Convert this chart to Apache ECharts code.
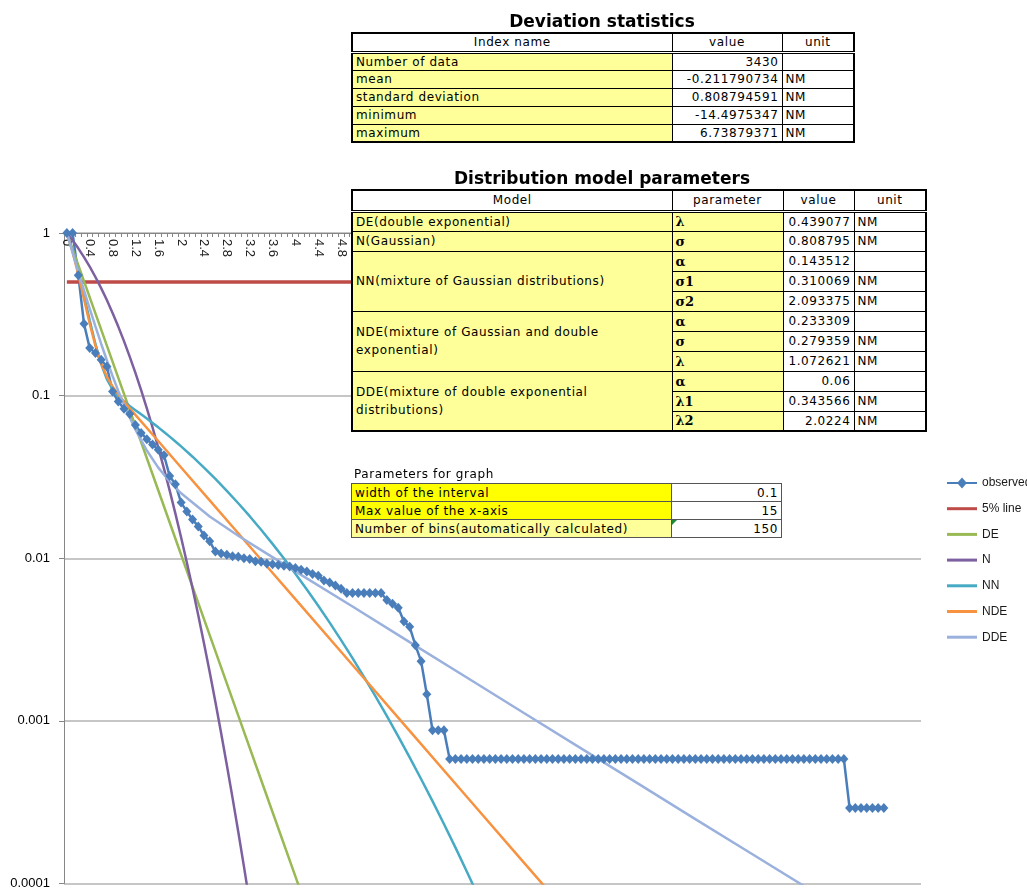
<!DOCTYPE html>
<html><head><meta charset="utf-8">
<script src="https://cdn.jsdelivr.net/npm/echarts@6/dist/echarts.min.js"></script>
<style>
body{margin:0;background:#fff;width:1027px;height:890px;overflow:hidden;position:relative;}
#chart{position:absolute;left:0;top:0;width:1027px;height:890px;}
.ttl{position:absolute;font:bold 17px 'DejaVu Sans',sans-serif;color:#000;white-space:nowrap;transform:translate(-50%,-50%);z-index:3;}
.cap{position:absolute;font:12px 'DejaVu Sans',sans-serif;letter-spacing:0.6px;color:#000;white-space:nowrap;z-index:3;}
table.t{position:absolute;border-collapse:collapse;table-layout:fixed;font:12px 'DejaVu Sans',sans-serif;letter-spacing:0.6px;color:#000;background:#fff;z-index:2;}
table.t td{border:1px solid #000;padding:0 3px;overflow:hidden;white-space:nowrap;line-height:14px;}
table.t td.y{background:#FFFF99;}
table.t td.yy{background:#FFFF00;}
table.t td.r{text-align:right;}
table.t td.c{text-align:center;}
table.t td.g{font:bold 13px 'DejaVu Serif',serif;letter-spacing:0;}
table.t td.w{white-space:normal;line-height:18px;}
table.thick{border:2px solid #000;}
table.thick tr.h td{border-bottom:3px double #000;}
table.thin td{border-color:#555;}
.tri{position:relative;}
.tri:before{content:'';position:absolute;left:0;top:0;border-top:5px solid #1E8A3A;border-right:5px solid transparent;}
</style></head>
<body>
<div id="chart"></div>

<div class="ttl" style="left:602px;top:21px;">Deviation statistics</div>
<table class="t thick" style="left:351px;top:32px;width:502px;">
<colgroup><col style="width:320px"><col style="width:110px"><col style="width:72px"></colgroup>
<tr class="h" style="height:19px"><td class="c">Index name</td><td class="c">value</td><td class="c">unit</td></tr>
<tr style="height:18px"><td class="y">Number of data</td><td class="r">3430</td><td></td></tr>
<tr style="height:18px"><td class="y">mean</td><td class="r">-0.211790734</td><td>NM</td></tr>
<tr style="height:18px"><td class="y">standard deviation</td><td class="r">0.808794591</td><td>NM</td></tr>
<tr style="height:18px"><td class="y">minimum</td><td class="r">-14.4975347</td><td>NM</td></tr>
<tr style="height:18px"><td class="y">maximum</td><td class="r">6.73879371</td><td>NM</td></tr>
</table>

<div class="ttl" style="left:602px;top:178px;">Distribution model parameters</div>
<table class="t thick" style="left:351px;top:189px;width:574px;">
<colgroup><col style="width:320px"><col style="width:111px"><col style="width:71px"><col style="width:72px"></colgroup>
<tr class="h" style="height:21px"><td class="c">Model</td><td class="c">parameter</td><td class="c">value</td><td class="c">unit</td></tr>
<tr style="height:20px"><td class="y">DE(double exponential)</td><td class="y g">λ</td><td class="r">0.439077</td><td>NM</td></tr>
<tr style="height:20px"><td class="y">N(Gaussian)</td><td class="y g">σ</td><td class="r">0.808795</td><td>NM</td></tr>
<tr style="height:20px"><td class="y" rowspan="3">NN(mixture of Gaussian distributions)</td><td class="y g">α</td><td class="r">0.143512</td><td></td></tr>
<tr style="height:20px"><td class="y g">σ1</td><td class="r">0.310069</td><td>NM</td></tr>
<tr style="height:20px"><td class="y g">σ2</td><td class="r">2.093375</td><td>NM</td></tr>
<tr style="height:20px"><td class="y w" rowspan="3">NDE(mixture of Gaussian and double<br>exponential)</td><td class="y g">α</td><td class="r">0.233309</td><td></td></tr>
<tr style="height:20px"><td class="y g">σ</td><td class="r">0.279359</td><td>NM</td></tr>
<tr style="height:20px"><td class="y g">λ</td><td class="r">1.072621</td><td>NM</td></tr>
<tr style="height:20px"><td class="y w" rowspan="3">DDE(mixture of double exponential<br>distributions)</td><td class="y g">α</td><td class="r">0.06</td><td></td></tr>
<tr style="height:20px"><td class="y g">λ1</td><td class="r">0.343566</td><td>NM</td></tr>
<tr style="height:20px"><td class="y g">λ2</td><td class="r">2.0224</td><td>NM</td></tr>
</table>

<div class="cap" style="left:354px;top:467px;">Parameters for graph</div>
<table class="t thin" style="left:351px;top:483px;width:430px;">
<colgroup><col style="width:320px"><col style="width:110px"></colgroup>
<tr style="height:18px"><td class="yy">width of the interval</td><td class="r">0.1</td></tr>
<tr style="height:18px"><td class="yy">Max value of the x-axis</td><td class="r">15</td></tr>
<tr style="height:18px"><td class="y">Number of bins(automatically calculated)</td><td class="r tri">150</td></tr>
</table>

<script>
// x categories (bin lower edges, width 0.1)
const categories = [
'0','0.1','0.2','0.3','0.4','0.5','0.6','0.7','0.8','0.9',
'1','1.1','1.2','1.3','1.4','1.5','1.6','1.7','1.8','1.9',
'2','2.1','2.2','2.3','2.4','2.5','2.6','2.7','2.8','2.9',
'3','3.1','3.2','3.3','3.4','3.5','3.6','3.7','3.8','3.9',
'4','4.1','4.2','4.3','4.4','4.5','4.6','4.7','4.8','4.9',
'5','5.1','5.2','5.3','5.4','5.5','5.6','5.7','5.8','5.9',
'6','6.1','6.2','6.3','6.4','6.5','6.6','6.7','6.8','6.9',
'7','7.1','7.2','7.3','7.4','7.5','7.6','7.7','7.8','7.9',
'8','8.1','8.2','8.3','8.4','8.5','8.6','8.7','8.8','8.9',
'9','9.1','9.2','9.3','9.4','9.5','9.6','9.7','9.8','9.9',
'10','10.1','10.2','10.3','10.4','10.5','10.6','10.7','10.8','10.9',
'11','11.1','11.2','11.3','11.4','11.5','11.6','11.7','11.8','11.9',
'12','12.1','12.2','12.3','12.4','12.5','12.6','12.7','12.8','12.9',
'13','13.1','13.2','13.3','13.4','13.5','13.6','13.7','13.8','13.9',
'14','14.1','14.2','14.3','14.4','14.5','14.6','14.7','14.8','14.9'
];

// observed exceedance probability, one value per category
const observed = [
1, 1, 0.55, 0.277, 0.196, 0.183, 0.166, 0.151, 0.106, 0.092,
0.083, 0.077, 0.066, 0.059, 0.054, 0.050, 0.0465, 0.043, 0.032, 0.0285,
0.022, 0.0194, 0.0173, 0.0157, 0.0138, 0.0127, 0.0110, 0.0107, 0.0105, 0.0103,
0.0102, 0.0100, 0.0099, 0.0096, 0.0095, 0.0093, 0.0092, 0.0091, 0.0090, 0.0089,
0.0087, 0.0085, 0.0083, 0.0080, 0.0078, 0.0073, 0.0071, 0.0068, 0.0065, 0.00612,
0.00612, 0.00612, 0.00612, 0.00612, 0.00612, 0.00612, 0.00554, 0.00525, 0.00496, 0.00408,
0.00379, 0.00292, 0.00233, 0.001458, 0.000875, 0.000875, 0.000875, 0.000583, 0.000583, 0.000583,
0.000583, 0.000583, 0.000583, 0.000583, 0.000583, 0.000583, 0.000583, 0.000583, 0.000583, 0.000583,
0.000583, 0.000583, 0.000583, 0.000583, 0.000583, 0.000583, 0.000583, 0.000583, 0.000583, 0.000583,
0.000583, 0.000583, 0.000583, 0.000583, 0.000583, 0.000583, 0.000583, 0.000583, 0.000583, 0.000583,
0.000583, 0.000583, 0.000583, 0.000583, 0.000583, 0.000583, 0.000583, 0.000583, 0.000583, 0.000583,
0.000583, 0.000583, 0.000583, 0.000583, 0.000583, 0.000583, 0.000583, 0.000583, 0.000583, 0.000583,
0.000583, 0.000583, 0.000583, 0.000583, 0.000583, 0.000583, 0.000583, 0.000583, 0.000583, 0.000583,
0.000583, 0.000583, 0.000583, 0.000583, 0.000583, 0.000583, 0.000583, 0.0002915, 0.0002915, 0.0002915,
0.0002915, 0.0002915, 0.0002915, 0.0002915
];

// 5% line (level), from first to last category
const lineX = ['0', '14.9'];
const lineY = [0.5, 0.5];

// model curves (category, value)
const deX = ['0','0.5','1','1.5','2','2.5','3','3.5','4','4.1'];
const deY = [1, 0.3201, 0.1025, 0.03283, 0.01051, 0.003366, 0.001078, 0.000345, 0.0001105, 0.000088];

const nX = ['0','0.1','0.2','0.3','0.4','0.5','0.6','0.7','0.8','0.9','1','1.1','1.2','1.3','1.4','1.5','1.6','1.7','1.8','1.9','2','2.1','2.2','2.3','2.4','2.5','2.6','2.7','2.8','2.9','3','3.1','3.2'];
const nY = [1, 0.9016, 0.8047, 0.7107, 0.6209, 0.5364, 0.4582, 0.3868, 0.3226, 0.2658, 0.2163, 0.1738, 0.1379, 0.1080, 0.0834, 0.0637, 0.0479, 0.03556, 0.02604, 0.01882, 0.01340, 0.00942, 0.00653, 0.00446, 0.00300, 0.00200, 0.001306, 0.000843, 0.000536, 0.000336, 0.000208, 0.000127, 0.000076];

const nnX = ['0','0.1','0.2','0.3','0.4','0.5','0.6','0.7','0.8','0.9','1','1.1','1.2','1.3','1.4','1.5','1.6','1.7','1.8','1.9','2','2.2','2.4','2.6','2.8','3','3.2','3.4','3.6','3.8','4','4.2','4.4','4.6','4.8','5','5.2','5.4','5.6','5.8','6','6.2','6.4','6.6','6.8','7','7.2'];
const nnY = [1, 0.7779, 0.5771, 0.4126, 0.2906, 0.2079, 0.1565, 0.1264, 0.1093, 0.0989, 0.0919, 0.0863, 0.0814, 0.0767, 0.07227, 0.06797, 0.06381, 0.05981, 0.05594, 0.05224, 0.04871, 0.04211, 0.03611, 0.03074, 0.02598, 0.02178, 0.01814, 0.01498, 0.01226, 0.00996, 0.00804, 0.00643, 0.0051, 0.00402, 0.00314, 0.00243, 0.001866, 0.001421, 0.001073, 0.000804, 0.000597, 0.000439, 0.000321, 0.000232, 0.0001668, 0.0001185, 0.0000837];

const ndeX = ['0','0.1','0.2','0.3','0.4','0.5','0.6','0.7','0.8','0.9','1','1.1','1.2','1.5','2','2.5','3','3.5','4','5','6','7','8','8.5'];
const ndeY = [1, 0.7648, 0.557, 0.3932, 0.2774, 0.2027, 0.1577, 0.1309, 0.1139, 0.1018, 0.0921, 0.0837, 0.0762, 0.05763, 0.03615, 0.02269, 0.01424, 0.008933, 0.005605, 0.002206, 0.000868, 0.0003417, 0.0001345, 0.0000844];

const ddeX = ['0','0.1','0.2','0.3','0.4','0.5','0.6','0.7','0.8','0.9','1','1.2','1.4','1.6','1.8','2','2.5','3','3.5','4','5','6','7','8','9','10','11','12','13','13.2'];
const ddeY = [1, 0.7597, 0.5795, 0.4443, 0.3426, 0.2662, 0.2085, 0.165, 0.132, 0.1069, 0.08775, 0.06172, 0.04598, 0.0361, 0.02961, 0.02509, 0.01807, 0.01376, 0.01067, 0.00831, 0.00505, 0.00305, 0.001847, 0.001117, 0.000678, 0.000411, 0.000249, 0.0001514, 0.0000919, 0.0000831];

const yTickLabels = ['0.0001', '0.001', '0.01', '0.1', '1'];
const legendNames = ['observed', '5% line', 'DE', 'N', 'NN', 'NDE', 'DDE'];

// legend glyphs: a line with a diamond, and a plain line
const iconLineDiamond = 'path://M0,5.5L11,5.5L15,1L19,5.5L30,5.5L30,7.5L19,7.5L15,12L11,7.5L0,7.5Z';
const iconLine = 'path://M0,0L30,0L30,3L0,3Z';

const pairs = (xs, ys) => xs.map((x, i) => [x, ys[i]]);

const chart = echarts.init(document.getElementById('chart'), null, {renderer: 'canvas'});
const base = {type: 'line', symbol: 'none', animation: false, clip: true};
chart.setOption({
  animation: false,
  backgroundColor: '#fff',
  textStyle: {fontFamily: 'Liberation Sans, Arial, sans-serif'},
  grid: {left: 64, top: 233, right: 106, bottom: 5, containLabel: false},
  legend: {
    orient: 'vertical', left: 942, top: 471, itemWidth: 30, itemHeight: 14, itemGap: 11.7,
    symbolKeepAspect: true,
    textStyle: {fontSize: 12, color: '#1a1a1a', fontFamily: 'Liberation Sans, Arial, sans-serif', lineHeight: 14},
    data: legendNames.map((n, i) => ({name: n, icon: i === 0 ? iconLineDiamond : iconLine}))
  },
  xAxis: {
    type: 'category', data: categories, position: 'top', boundaryGap: true,
    axisLine: {lineStyle: {color: '#868686', width: 1}},
    axisTick: {show: true, inside: true, length: 4, interval: 0, lineStyle: {color: '#868686'}},
    axisLabel: {inside: true, rotate: 90, interval: 3, fontSize: 13, color: '#222', margin: 6},
    splitLine: {show: false}
  },
  yAxis: {
    type: 'log', logBase: 10, min: 0.0001, max: 1,
    axisLine: {show: true, lineStyle: {color: '#868686'}},
    axisTick: {show: true, length: 5, lineStyle: {color: '#868686'}},
    axisLabel: {fontSize: 13, color: '#000', margin: 14,
      formatter: v => yTickLabels[Math.round(Math.log10(v)) + 4]},
    splitLine: {lineStyle: {color: '#B3B3B3', width: 1.5}},
    minorTick: {show: false}, minorSplitLine: {show: false}
  },
  series: [
    {type: 'line', name: 'observed', data: observed, symbol: 'diamond', symbolSize: [9, 10], showAllSymbol: true,
     lineStyle: {color: '#4A7EBB', width: 2.5}, itemStyle: {color: '#4A7EBB'}, animation: false, clip: true},
    Object.assign({}, base, {name: '5% line', data: pairs(lineX, lineY), lineStyle: {color: '#BE4B48', width: 3.5}, itemStyle: {color: '#BE4B48'}}),
    Object.assign({}, base, {name: 'DE', data: pairs(deX, deY), lineStyle: {color: '#98B954', width: 2.5}, itemStyle: {color: '#98B954'}}),
    Object.assign({}, base, {name: 'N', data: pairs(nX, nY), lineStyle: {color: '#7D60A0', width: 2.5}, itemStyle: {color: '#7D60A0'}}),
    Object.assign({}, base, {name: 'NN', data: pairs(nnX, nnY), lineStyle: {color: '#46AAC5', width: 2.5}, itemStyle: {color: '#46AAC5'}}),
    Object.assign({}, base, {name: 'NDE', data: pairs(ndeX, ndeY), lineStyle: {color: '#F69240', width: 2.5}, itemStyle: {color: '#F69240'}}),
    Object.assign({}, base, {name: 'DDE', data: pairs(ddeX, ddeY), lineStyle: {color: '#9BB1DD', width: 2.5}, itemStyle: {color: '#9BB1DD'}})
  ]
});
</script>
</body></html>
